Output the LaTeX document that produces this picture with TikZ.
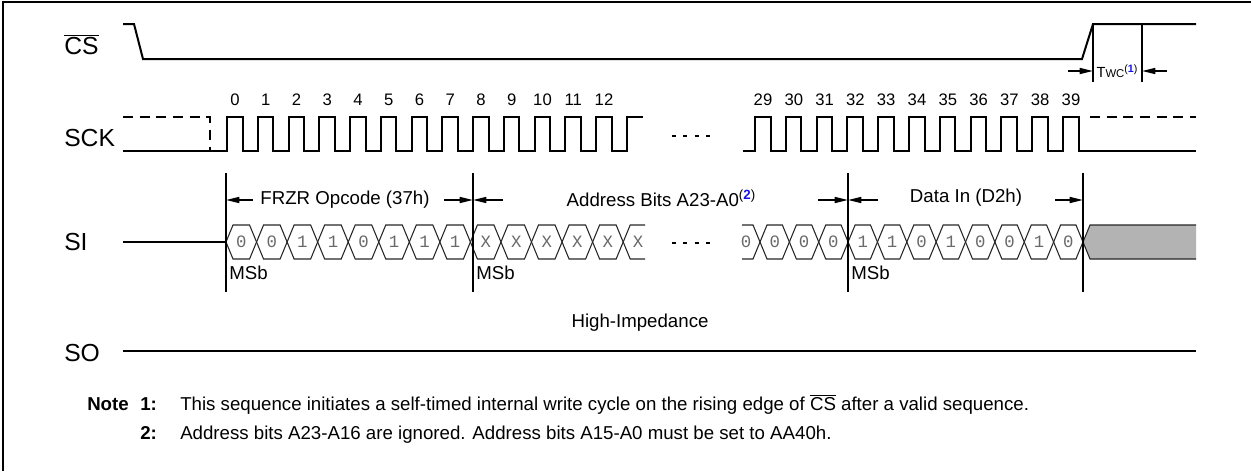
\documentclass[tikz,border=0pt]{standalone}
\usepackage{fontspec}
\setmainfont{Liberation Sans}
\newfontfamily\bitfont{Liberation Mono}
\usetikzlibrary{arrows.meta,calc}
\definecolor{noteblue}{RGB}{20,20,230}
\definecolor{hizgray}{RGB}{179,179,179}
\definecolor{bitgray}{RGB}{105,105,105}

\begin{document}
\begin{tikzpicture}[x=0.75pt, y=-0.75pt, >={Triangle[length=10pt,width=4.5pt]},
    sig/.style={line width=1.5pt},
    marker/.style={line width=1.5pt},
    arr/.style={->, line width=1.1pt},
    hexline/.style={line width=0.8pt, black!85},
    lbl/.style={font=\fontsize{18.5}{22}\selectfont, anchor=west, inner sep=0pt},
    tick/.style={font=\fontsize{12.5}{15}\selectfont, inner sep=0pt},
    seg/.style={font=\fontsize{14}{17}\selectfont, inner sep=0pt},
    bit/.style={font=\bitfont\fontsize{13}{15}\selectfont, text=bitgray, inner sep=0pt},
    note/.style={font=\fontsize{14}{17}\selectfont, anchor=base west, inner sep=0pt}]

  \useasboundingbox (0,0) rectangle (1251,471);
  \draw[line width=1.5pt] (3,471) -- (3,2) -- (1251,2);

  % signal names
  \node[lbl] (cs) at (64,45) {$\overline{\mbox{CS}}$};
  \node[lbl] (sck) at (64,138) {SCK};
  \node[lbl] (si) at (64,242) {SI};
  \node[lbl] (so) at (64,353) {SO};

  % chip select
  \draw[sig] (123,24) -- (134,24) -- (143,59) -- (1082,59) -- (1093,24) -- (1196,24);
  \coordinate (twcA) at (1093,71);
  \coordinate (twcB) at (1142,71);
  \draw[marker] (1093,24) -- (1093,82);
  \draw[marker] (1142,24) -- (1142,82);
  \draw[arr] ($(twcA)+(-25,0)$) -- (twcA);
  \draw[arr] ($(twcB)+(25,0)$) -- (twcB);
  \node[inner sep=0pt] (twc) at (1117,71) {{\fontsize{11}{12}\selectfont T}{\fontsize{8.5}{10}\selectfont WC}\raisebox{4pt}{\fontsize{8}{9}\selectfont(\textcolor{noteblue}{\textbf{1}})}};

  % clock
  \draw[sig, dash pattern=on 7.5pt off 5pt] (123,117) -- (210,117) -- (210,151);
  \draw[sig] (123,151) -- (227,151)
    \foreach \k in {0,...,12} { -- ++(0,-34) -- ++(15.5,0) -- ++(0,34) -- ++(15.25,0) }
    -- ++(0,-34) -- ++(16,0);
  \foreach \k in {0,...,12}
    \node[tick] at (235+\k*30.75,100) {\k};
  \draw[sig] (743,151) -- (755,151)
    \foreach \k in {29,...,38} { -- ++(0,-34) -- ++(15.5,0) -- ++(0,34) -- ++(15.3,0) }
    -- ++(0,-34) -- ++(16,0) -- ++(0,34) -- (1196,151);
  \draw[sig, dash pattern=on 7.5pt off 5pt] (1090,117) -- (1196,117);
  \foreach \k in {29,...,39}
    \node[tick] at (763+\k*30.8-893.2,100) {\k};
  \draw[line width=1.5pt, dash pattern=on 3pt off 5.5pt] (672,136) -- (710,136);

  % serial input
  \draw[sig] (123,242) -- (226,242);
  \foreach \i/\v in {0/0,1/0,2/1,3/1,4/0,5/1,6/1,7/1,8/X,9/X,10/X,11/X,12/X} {
    \draw[hexline] (226+\i*30.55,242) -- (233+\i*30.55,225) -- (249.55+\i*30.55,225)
      -- (256.55+\i*30.55,242) -- (249.55+\i*30.55,259) -- (233+\i*30.55,259) -- cycle;
    \node[bit] at (241.3+\i*30.55,242) {\v};
  }
  \draw[hexline] (645,225) -- (630.2,225) -- (623.2,242) -- (630.2,259) -- (645,259);
  \node[bit] at (638,242) {X};
  \draw[line width=1.5pt, dash pattern=on 3pt off 5.5pt] (672,243) -- (710,243);
  \draw[hexline] (742,225) -- (753,225) -- (760,242) -- (753,259) -- (742,259);
  \node[bit] at (746,242) {0};
  \foreach \j/\v in {0/0,1/0,2/0,3/1,4/1,5/0,6/1,7/0,8/0,9/1,10/0} {
    \draw[hexline] (760+\j*29.36,242) -- (767+\j*29.36,225) -- (782.36+\j*29.36,225)
      -- (789.36+\j*29.36,242) -- (782.36+\j*29.36,259) -- (767+\j*29.36,259) -- cycle;
    \node[bit] at (774.7+\j*29.36,242) {\v};
  }
  \draw[hexline, fill=hizgray] (1196,225) -- (1090,225) -- (1083,242) -- (1090,259) -- (1196,259);

  % field markers
  \foreach \x/\n in {226/op,473/ad,848/da,1083/en} {
    \draw[marker] (\x,173) -- (\x,292);
    \coordinate (\n) at (\x,200);
  }
  \draw[arr] ($(op)+(27,0)$) -- (op);
  \draw[arr] ($(ad)+(-29,0)$) -- (ad);
  \draw[arr] ($(ad)+(30,0)$) -- (ad);
  \draw[arr] ($(da)+(-30,0)$) -- (da);
  \draw[arr] ($(da)+(30,0)$) -- (da);
  \draw[arr] ($(en)+(-28,0)$) -- (en);
  \node[seg] (opcode) at (345,200) {FRZR Opcode (37h)};
  \node[seg] (addr) at (661,198) {Address Bits A23-A0\raisebox{5pt}{\fontsize{10}{12}\selectfont(\textcolor{noteblue}{\textbf{2}})}};
  \node[seg] (data) at (966,198) {Data In (D2h)};
  \node[seg, anchor=west] (msbA) at (229,273) {MSb};
  \node[seg, anchor=west] (msbB) at (476,273) {MSb};
  \node[seg, anchor=west] (msbC) at (851,273) {MSb};

  % serial output
  \node[seg] (hiz) at (640,323) {High-Impedance};
  \draw[sig] (123,351) -- (1196,351);

  % notes
  \node[note] (note) at (87,410) {\textbf{Note}};
  \node[note] (n1) at (140,410) {\textbf{1:}};
  \node[note] (t1) at (180,410) {This sequence initiates a self-timed internal write cycle on the rising edge of $\overline{\mbox{CS}}$ after a valid sequence.};
  \node[note] (n2) at (140,439) {\textbf{2:}};
  \node[note] (t2) at (180,439) {Address bits A23-A16 are ignored. Address bits A15-A0 must be set to AA40h.};
\end{tikzpicture}
\end{document}
